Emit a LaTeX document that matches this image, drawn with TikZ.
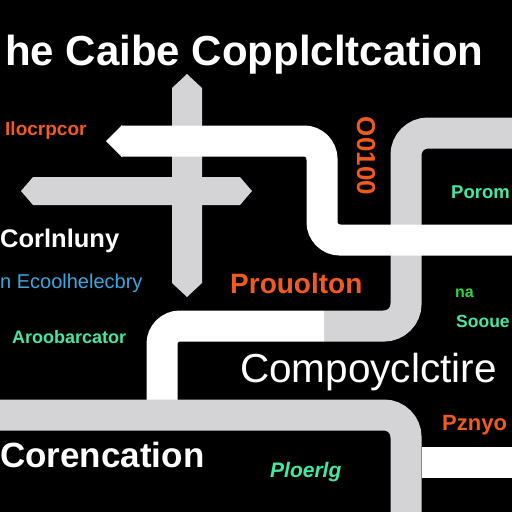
\documentclass[tikz,border=0pt]{standalone}
\usepackage{fontspec}
\setmainfont{Liberation Sans}
\usetikzlibrary{positioning}

\definecolor{barGray}{HTML}{D4D4D6}
\definecolor{lblOrange}{HTML}{F25A1E}
\definecolor{lblCyan}{HTML}{38A8E0}
\definecolor{lblMint}{HTML}{42E8A4}
\definecolor{lblGreen}{HTML}{28D83C}

\tikzset{
  bar/.style={line width=31pt},
  whitebar/.style={bar, draw=white, rounded corners=18pt},
  graybar/.style={bar, draw=barGray, rounded corners=22pt},
  lbl/.style={inner sep=0pt, anchor=base west, font=\bfseries},
}

\begin{document}
\begin{tikzpicture}[x=1pt, y=-1pt]

            \fill[black] (0,0) rectangle (512,512);
            \useasboundingbox (0,0) rectangle (512,512);

            % gray cross with pointed ends
            \fill[barGray] (172,88) -- (187,74) -- (202,88) -- (202,283) -- (187,297) -- (172,283) -- cycle;
            \fill[barGray] (33,177) -- (21,191) -- (33,205) -- (240,205) -- (252,191) -- (240,177) -- cycle;

            % right gray path, then the white one over it
            \draw[graybar] (512,133) -- (406,133) -- (406,326) -- (324,326);
            \fill[white] (122,125) -- (106,141) -- (122,157) -- cycle;
            \draw[whitebar] (121,141) -- (322,141) -- (322,240) -- (512,240);

            % lower paths
            \draw[whitebar] (324,326) -- (162,326) -- (162,400);
            \draw[graybar] (0,415) -- (406,415) -- (406,512);
            \draw[bar, white] (422,462) -- (512,462);

            % title
            \node[lbl, white, font=\fontsize{42}{46}\selectfont\bfseries] (title) at (5,65) {he Caibe Copplcltcation};

            % labels
            \node[lbl, lblOrange, font=\fontsize{19}{22}\selectfont\bfseries] (ilocr) at (5,135) {Ilocrpcor};
            \node[lbl, white, font=\fontsize{25.5}{28}\selectfont\bfseries] (corln) at (0,247) {Corlnluny};
            \node[lbl, lblCyan, font=\fontsize{20}{22}\selectfont] (ecool) at (0,288) {n Ecoolhelecbry};
            \node[lbl, lblMint, font=\fontsize{18}{20}\selectfont\bfseries] (aroob) at (12,343) {Aroobarcator};
            \node[lbl, white, font=\fontsize{35}{38}\selectfont\bfseries] (coren) at (0,467) {Corencation};
            \node[lbl, lblOrange, font=\fontsize{28}{30}\selectfont\bfseries] (prouo) at (230,293) {Prouolton};
            \node[inner sep=0pt, rotate=-90, lblOrange, font=\fontsize{26}{28}\selectfont\bfseries] (oloo) at (366,156) {O0100};
            \node[lbl, lblMint, font=\fontsize{18.5}{21}\selectfont\bfseries] (porom) at (451,198) {Porom};
            \node[lbl, lblGreen, font=\fontsize{16}{18}\selectfont\bfseries] (na) at (455,297) {na};
            \node[lbl, lblMint, font=\fontsize{17.5}{20}\selectfont\bfseries] (sooue) at (456,327) {Sooue};
            \node[lbl, white, font=\fontsize{40.5}{44}\selectfont] (compo) at (240,382) {Compoyclctire};
            \node[lbl, lblOrange, font=\fontsize{22}{24}\selectfont\bfseries] (pznyo) at (442,430) {Pznyo};
            \node[lbl, lblMint, font=\fontsize{21}{23}\selectfont\bfseries\itshape] (ploer) at (270,477) {Ploerlg};

        \end{tikzpicture}
\end{document}
